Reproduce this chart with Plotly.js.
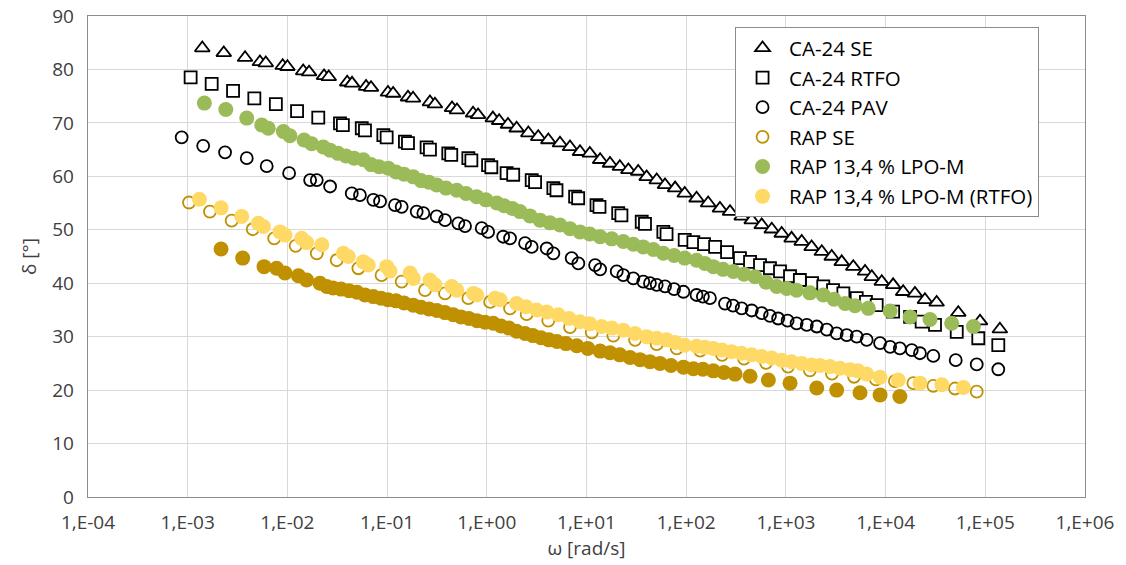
<!DOCTYPE html>
<html>
<head>
<meta charset="utf-8">
<script src="https://cdn.plot.ly/plotly-3.0.1.min.js"></script>
<style>
html,body{margin:0;padding:0;background:#fff;}
#chart{width:1126px;height:565px;}
</style>
</head>
<body>
<div id="chart"></div>
<script>
// ---- Data ----
const xTickVals = [1e-4, 1e-3, 1e-2, 1e-1, 1e0, 1e1, 1e2, 1e3, 1e4, 1e5, 1e6];
const xTickText = ["1,E-04", "1,E-03", "1,E-02", "1,E-01", "1,E+00", "1,E+01", "1,E+02", "1,E+03", "1,E+04", "1,E+05", "1,E+06"];

const seriesNames = ["CA-24 SE", "CA-24 RTFO", "CA-24 PAV", "RAP SE", "RAP 13,4 % LPO-M", "RAP 13,4 % LPO-M (RTFO)"];

// CA-24 SE
const caSeOmega = [1.40e-3, 2.30e-3, 3.76e-3, 5.3e-3, 6.07e-3, 8.97e-3, 1.0e-2, 1.44e-2, 1.65e-2, 2.33e-2, 2.6e-2, 3.98e-2, 4.45e-2, 6.15e-2, 6.9e-2, 0.102, 0.115, 0.162, 0.182, 0.269, 0.302, 0.448, 0.502, 0.728, 0.817, 1.15, 1.33, 1.63, 1.99, 2.61, 3.28, 4.14, 5.42, 6.83, 8.6, 10.8, 13.7, 17.2, 21.6, 26.3, 33.0, 40.1, 50.6, 61.3, 77.4, 96.6, 127, 166, 218, 275, 360, 454, 572, 721, 907, 1140, 1440, 1810, 2290, 2880, 3630, 4740, 6220, 7270, 9150, 1.19e4, 1.50e4, 1.97e4, 2.48e4, 3.25e4, 5.36e4, 8.85e4, 1.40e5];
const caSeDelta = [84.0, 83.1, 82.2, 81.4, 81.2, 80.7, 80.5, 79.7, 79.5, 78.8, 78.6, 77.6, 77.4, 76.8, 76.6, 75.7, 75.5, 74.8, 74.6, 73.9, 73.5, 72.8, 72.4, 71.8, 71.5, 70.9, 70.4, 69.7, 69.0, 68.1, 67.4, 66.8, 66.2, 65.5, 64.6, 64.3, 63.1, 62.4, 61.8, 61.2, 60.9, 59.9, 59.3, 58.4, 57.8, 56.8, 55.9, 55.0, 54.0, 53.4, 52.5, 51.8, 50.9, 50.1, 49.3, 48.4, 47.8, 46.8, 45.9, 45.0, 44.0, 43.1, 42.2, 41.2, 40.3, 39.7, 38.4, 38.1, 36.9, 36.4, 34.5, 32.9, 31.4];

// CA-24 RTFO
const caRtfoOmega = [1.07e-3, 1.74e-3, 2.85e-3, 4.66e-3, 7.66e-3, 1.25e-2, 2.04e-2, 3.37e-2, 3.6e-2, 5.57e-2, 6.0e-2, 9.17e-2, 9.9e-2, 0.151, 0.162, 0.249, 0.269, 0.411, 0.44, 0.653, 0.70, 1.03, 1.11, 1.58, 1.84, 2.82, 3.05, 4.65, 5.0, 7.69, 8.25, 12.6, 13.5, 20.8, 22.4, 35.8, 38.6, 59.0, 63.5, 96.6, 118, 151, 195, 257, 346, 437, 550, 692, 873, 1100, 1380, 1830, 2370, 2970, 3770, 5130, 6350, 8140, 1.19e4, 1.76e4, 2.30e4, 3.13e4, 5.17e4, 8.51e4, 1.35e5];
const caRtfoDelta = [78.5, 77.3, 76.0, 74.6, 73.5, 72.2, 71.0, 69.9, 69.6, 69.0, 68.6, 67.7, 67.3, 66.5, 66.2, 65.4, 65.0, 64.3, 64.0, 63.4, 63.0, 62.1, 61.7, 60.6, 60.3, 59.3, 58.9, 57.8, 57.4, 56.2, 55.9, 54.6, 54.3, 53.1, 52.7, 51.5, 51.1, 49.6, 49.2, 48.1, 47.7, 47.3, 46.8, 45.8, 44.7, 44.0, 43.4, 42.8, 42.2, 41.3, 40.6, 40.0, 39.4, 38.7, 38.1, 37.2, 36.5, 35.9, 34.7, 33.7, 32.8, 32.2, 30.9, 29.7, 28.4];

// CA-24 PAV
const caPavOmega = [8.7e-4, 1.43e-3, 2.37e-3, 3.91e-3, 6.2e-3, 1.04e-2, 1.69e-2, 1.97e-2, 2.68e-2, 4.42e-2, 5.34e-2, 7.28e-2, 8.5e-2, 0.120, 0.140, 0.198, 0.231, 0.314, 0.381, 0.518, 0.605, 0.889, 1.03, 1.46, 1.71, 2.42, 2.82, 3.99, 4.65, 7.1, 8.28, 12.2, 13.7, 20.1, 23.4, 29.5, 37.1, 43.3, 50.6, 61.3, 75.6, 93.9, 127, 147, 173, 245, 295, 360, 454, 572, 692, 836, 1040, 1280, 1620, 2040, 2570, 3230, 4070, 5130, 6460, 8800, 1.11e4, 1.39e4, 1.83e4, 2.21e4, 3.01e4, 5.05e4, 8.2e4, 1.35e5];
const caPavDelta = [67.3, 65.7, 64.5, 63.4, 61.9, 60.6, 59.3, 59.3, 58.1, 56.8, 56.5, 55.6, 55.3, 54.6, 54.3, 53.4, 53.1, 52.5, 51.8, 51.2, 50.7, 50.3, 49.6, 48.7, 48.4, 47.5, 46.8, 46.5, 45.6, 44.7, 43.7, 43.4, 42.6, 42.2, 41.5, 40.9, 40.3, 40.0, 39.7, 39.4, 38.9, 38.4, 37.8, 37.5, 37.2, 36.2, 35.8, 35.3, 34.9, 34.4, 33.9, 33.4, 33.0, 32.5, 32.2, 31.9, 31.3, 30.6, 30.3, 30.0, 29.4, 28.8, 28.1, 27.8, 27.5, 26.9, 26.4, 25.6, 24.8, 23.9];

// RAP SE
const rapSeOmega = [1.03e-3, 1.67e-3, 2.76e-3, 4.49e-3, 7.37e-3, 1.21e-2, 1.97e-2, 3.12e-2, 5.15e-2, 8.8e-2, 0.140, 0.240, 0.381, 0.653, 1.08, 1.71, 2.51, 4.14, 6.83, 11.3, 18.6, 30.7, 50.6, 80.4, 138, 229, 380, 632, 1050, 1740, 2900, 4830, 8000, 1.24e4, 1.90e4, 3.01e4, 4.97e4, 8.2e4];
const rapSeDelta = [55.1, 53.4, 51.7, 50.1, 48.4, 47.0, 45.6, 44.3, 42.8, 41.5, 40.3, 38.7, 38.1, 37.2, 36.5, 35.3, 34.2, 33.0, 31.8, 30.8, 30.2, 29.4, 28.6, 27.8, 27.4, 26.6, 25.9, 25.1, 24.4, 23.7, 23.1, 22.5, 22.0, 21.7, 21.3, 20.8, 20.3, 19.7];

// Unlabelled dark-gold filled series
const rapDarkOmega = [2.16e-3, 3.56e-3, 5.83e-3, 7.8e-3, 9.46e-3, 1.29e-2, 1.56e-2, 2.12e-2, 2.48e-2, 2.87e-2, 3.45e-2, 4.15e-2, 5.0e-2, 6.0e-2, 7.28e-2, 8.7e-2, 0.102, 0.123, 0.148, 0.183, 0.219, 0.263, 0.316, 0.381, 0.461, 0.551, 0.663, 0.798, 0.96, 1.16, 1.39, 1.67, 1.99, 2.42, 2.9, 3.5, 4.2, 5.06, 6.23, 7.98, 10.3, 13.7, 17.2, 21.6, 27.3, 34.4, 43.3, 54.7, 70.4, 93.9, 118, 147, 187, 239, 309, 437, 667, 1100, 2040, 3230, 5540, 8800, 1.39e4];
const rapDarkDelta = [46.4, 44.7, 43.1, 42.8, 41.9, 41.4, 40.6, 40.0, 39.4, 39.1, 38.9, 38.6, 38.3, 37.8, 37.5, 37.2, 36.9, 36.7, 36.3, 35.9, 35.5, 35.2, 34.9, 34.5, 34.1, 33.7, 33.4, 33.0, 32.7, 32.5, 32.0, 31.6, 31.0, 30.6, 30.2, 29.8, 29.4, 29.1, 28.7, 28.3, 27.8, 27.3, 27.0, 26.6, 26.1, 25.7, 25.3, 25.0, 24.6, 24.3, 24.0, 23.9, 23.6, 23.3, 23.0, 22.6, 21.9, 21.3, 20.4, 20.0, 19.5, 19.1, 18.8];

// RAP 13,4 % LPO-M
const lpoOmega = [1.47e-3, 2.41e-3, 3.91e-3, 5.53e-3, 6.43e-3, 9.1e-3, 1.06e-2, 1.47e-2, 1.75e-2, 2.29e-2, 2.68e-2, 3.22e-2, 3.87e-2, 4.66e-2, 5.78e-2, 6.9e-2, 8.31e-2, 0.103, 0.123, 0.148, 0.183, 0.219, 0.263, 0.314, 0.39, 0.50, 0.62, 0.79, 0.98, 1.26, 1.49, 1.8, 2.15, 2.71, 3.42, 4.3, 5.42, 6.83, 8.6, 10.8, 13.7, 17.9, 23.4, 29.5, 37.1, 46.8, 59.0, 75.6, 96.6, 127, 154, 187, 234, 297, 380, 490, 632, 809, 1020, 1280, 1740, 2370, 3040, 3920, 4930, 6710, 1.11e4, 1.76e4, 2.79e4, 4.6e4, 7.6e4];
const lpoDelta = [73.7, 72.5, 70.9, 69.6, 69.0, 68.4, 67.6, 66.8, 66.1, 65.5, 64.9, 64.3, 63.8, 63.4, 63.1, 62.2, 61.8, 61.5, 60.8, 60.4, 59.9, 59.2, 58.9, 58.4, 57.8, 57.4, 56.8, 56.2, 55.6, 55.0, 54.5, 54.0, 53.4, 52.6, 51.8, 51.3, 50.9, 50.2, 49.6, 49.2, 48.7, 48.3, 47.8, 47.3, 46.8, 46.3, 45.6, 45.2, 44.7, 44.3, 43.7, 43.1, 42.6, 42.2, 41.7, 41.2, 40.2, 39.4, 39.0, 38.7, 38.2, 37.8, 37.0, 36.2, 35.8, 35.3, 34.8, 33.7, 33.2, 32.5, 31.9];

// RAP 13,4 % LPO-M (RTFO)
const lpoRtfoOmega = [1.31e-3, 2.16e-3, 3.48e-3, 5.11e-3, 5.74e-3, 8.44e-3, 9.46e-3, 1.39e-2, 1.56e-2, 2.21e-2, 3.64e-2, 4.08e-2, 5.78e-2, 6.48e-2, 9.9e-2, 0.107, 0.170, 0.183, 0.269, 0.302, 0.445, 0.50, 0.733, 0.793, 1.21, 1.36, 1.99, 2.47, 3.16, 4.01, 5.21, 6.69, 8.6, 10.8, 14.2, 18.0, 23.4, 30.7, 40.1, 50.6, 63.7, 77.4, 96.6, 127, 154, 187, 229, 286, 360, 454, 572, 721, 907, 1140, 1440, 1810, 2200, 2770, 3490, 4400, 5280, 6460, 8800, 1.34e4, 2.21e4, 3.66e4, 6.03e4];
const lpoRtfoDelta = [55.7, 54.1, 52.5, 51.2, 50.6, 49.6, 49.0, 48.4, 47.6, 47.2, 45.6, 45.0, 44.0, 43.4, 43.1, 42.3, 41.9, 40.9, 40.6, 39.7, 39.4, 38.7, 38.1, 37.8, 37.2, 36.9, 36.2, 35.6, 35.0, 34.6, 34.1, 33.4, 32.8, 32.4, 31.9, 31.6, 31.2, 30.6, 30.0, 29.7, 29.4, 28.9, 28.4, 28.2, 28.0, 27.8, 27.5, 27.2, 26.9, 26.6, 26.3, 26.0, 25.6, 25.3, 25.0, 24.7, 24.6, 24.4, 24.1, 23.8, 23.6, 23.0, 22.4, 21.9, 21.3, 21.0, 20.5];

// ---- Styles ----
const GOLD = '#bf9000', GREEN = '#9bbb59', YELLOW = '#ffd966';
const FONT = '"Open Sans", "Noto Sans", "Liberation Sans", sans-serif';

const traces = [
  {x: caSeOmega, y: caSeDelta, name: seriesNames[0], legendgroup: 'g1', mode: 'markers', type: 'scatter',
   marker: {symbol: 'triangle-up', size: 13, color: '#ffffff', line: {color: '#000000', width: 1.8}}},
  {x: caRtfoOmega, y: caRtfoDelta, name: seriesNames[1], legendgroup: 'g2', mode: 'markers', type: 'scatter',
   marker: {symbol: 'square', size: 12, color: '#ffffff', line: {color: '#000000', width: 1.8}}},
  {x: caPavOmega, y: caPavDelta, name: seriesNames[2], legendgroup: 'g3', mode: 'markers', type: 'scatter',
   marker: {symbol: 'circle-open', size: 12, color: '#000000', line: {color: '#000000', width: 1.8}}},
  {x: rapSeOmega, y: rapSeDelta, name: seriesNames[3], legendgroup: 'g4', mode: 'markers', type: 'scatter',
   marker: {symbol: 'circle-open', size: 12, color: GOLD, line: {color: GOLD, width: 1.8}}},
  {x: rapDarkOmega, y: rapDarkDelta, name: '', showlegend: false, mode: 'markers', type: 'scatter',
   marker: {symbol: 'circle', size: 15, color: GOLD}},
  {x: lpoOmega, y: lpoDelta, name: seriesNames[4], legendgroup: 'g5', mode: 'markers', type: 'scatter',
   marker: {symbol: 'circle', size: 15, color: GREEN}},
  {x: lpoRtfoOmega, y: lpoRtfoDelta, name: seriesNames[5], legendgroup: 'g6', mode: 'markers', type: 'scatter',
   marker: {symbol: 'circle', size: 15, color: YELLOW}}
];

const axisCommon = {
  showgrid: true, gridcolor: '#d9d9d9', gridwidth: 1,
  showline: true, mirror: true, linecolor: '#8c8c8c', linewidth: 1.3,
  ticks: '', zeroline: false,
  tickfont: {family: FONT, size: 19, color: '#404040'}
};

const layout = {
  width: 1126, height: 565,
  margin: {l: 88, r: 41, t: 16, b: 68, pad: 0},
  paper_bgcolor: '#ffffff', plot_bgcolor: '#ffffff',
  font: {family: FONT, color: '#404040'},
  showlegend: true,
  legend: {
    x: 0.649, y: 0.977, xanchor: 'left', yanchor: 'top',
    bgcolor: '#ffffff', bordercolor: '#8c8c8c', borderwidth: 1,
    font: {family: FONT, size: 20.5, color: '#000000'},
    itemwidth: 43,
    tracegroupgap: 0, traceorder: 'normal'
  },
  xaxis: Object.assign({}, axisCommon, {
    type: 'log', range: [-4, 6],
    tickmode: 'array', tickvals: xTickVals, ticktext: xTickText,
    ticklabelstandoff: 8,
    title: {text: 'ω [rad/s]', font: {family: FONT, size: 19, color: '#404040'}, standoff: 4}
  }),
  yaxis: Object.assign({}, axisCommon, {
    range: [0, 90], dtick: 10, tick0: 0,
    ticklabelstandoff: 9,
    title: {text: 'δ [°]', font: {family: FONT, size: 19, color: '#404040'}, standoff: 10}
  })
};

Plotly.newPlot('chart', traces, layout, {displayModeBar: false, staticPlot: true});
</script>
</body>
</html>
